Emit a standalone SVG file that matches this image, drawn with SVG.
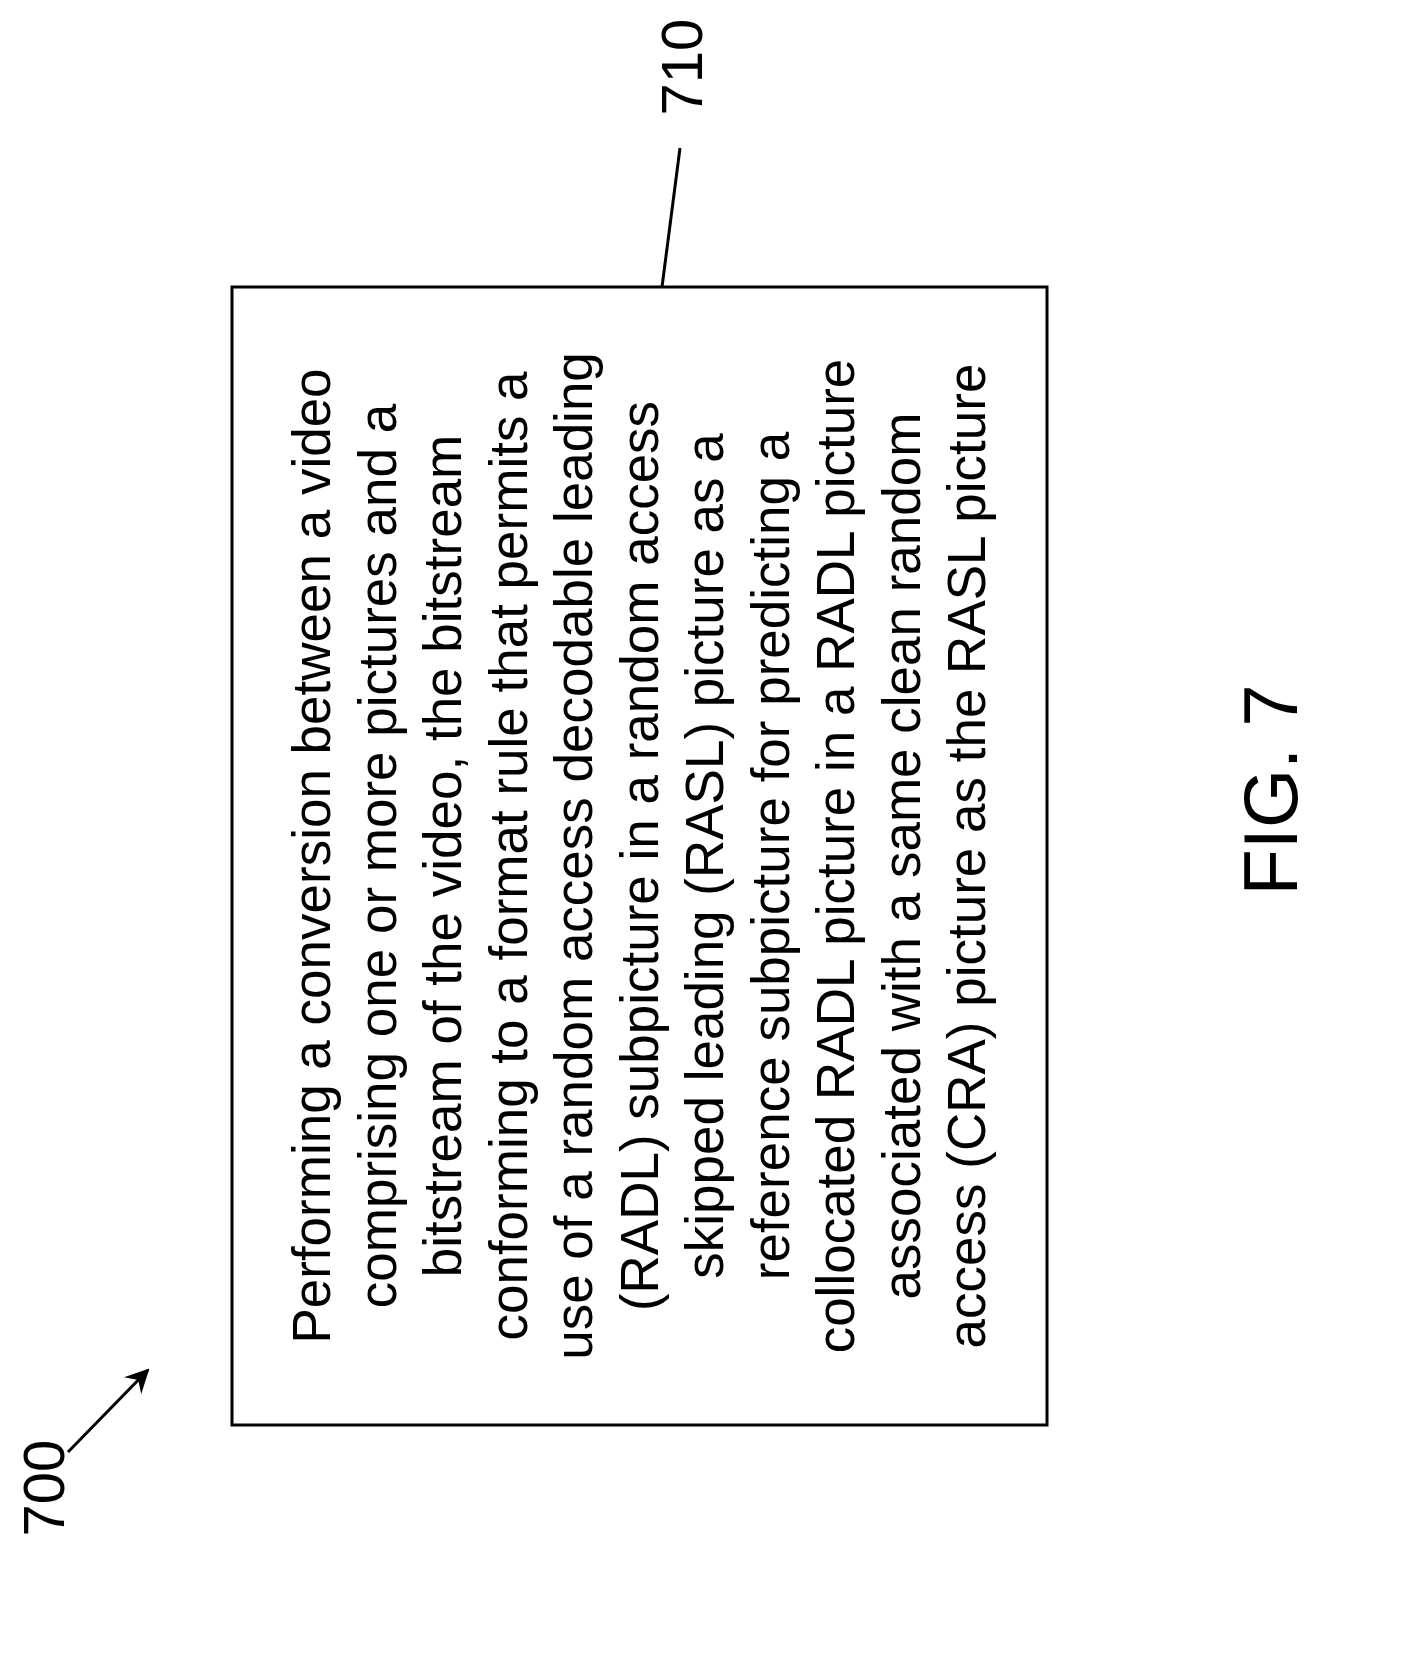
<svg xmlns="http://www.w3.org/2000/svg" width="1407" height="1677" viewBox="0 0 1407 1677">
<style>
.t{font-family:"Liberation Sans",Arial,sans-serif;font-size:53px;fill:#000;text-anchor:middle}
.l{font-family:"Liberation Sans",Arial,sans-serif;font-size:58px;fill:#000;text-anchor:middle}
.s{stroke:#000;stroke-width:3;fill:none}
</style>
<defs>
<marker id="b" viewBox="0 0 12 12" refX="11" refY="6" markerWidth="24" markerHeight="24" orient="auto" markerUnits="userSpaceOnUse"><path d="M0,0L12,6L0,12L4,6z" fill="#000"/></marker></defs>
<rect width="1407" height="1677" fill="#fff"/>
<g id="node710">
<rect x="232" y="287" width="815" height="1138" class="s"/>
<g transform="translate(0,856) rotate(-90)">
<text class="t" x="0" y="330">Performing a conversion between a video</text>
<text class="t" x="0" y="395.5">comprising one or more pictures and a</text>
<text class="t" x="0" y="461">bitstream of the video, the bitstream</text>
<text class="t" x="0" y="526.5">conforming to a format rule that permits a</text>
<text class="t" x="0" y="592">use of a random access decodable leading</text>
<text class="t" x="0" y="657.5">(RADL) subpicture in a random access</text>
<text class="t" x="0" y="723">skipped leading (RASL) picture as a</text>
<text class="t" x="0" y="788.5">reference subpicture for predicting a</text>
<text class="t" x="0" y="854">collocated RADL picture in a RADL picture</text>
<text class="t" x="0" y="919.5">associated with a same clean random</text>
<text class="t" x="0" y="985">access (CRA) picture as the RASL picture</text>
</g>
</g>
<g id="labels">
<text class="l" transform="translate(702,67) rotate(-90)">710</text>
<text class="l" transform="translate(64,1488) rotate(-90)">700</text>
<text class="t" style="font-size:76px" transform="translate(1297,790) rotate(-90)">FIG. 7</text>
</g>
<g id="connectors">
<line x1="680" y1="148" x2="662" y2="287" class="s"/>
<line x1="68" y1="1452" x2="148" y2="1370" class="s" marker-end="url(#b)"/>
</g>
</svg>
